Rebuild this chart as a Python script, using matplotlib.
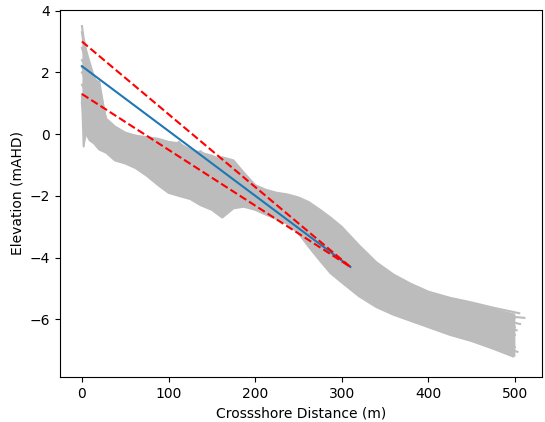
import matplotlib
matplotlib.use('Agg')
from matplotlib import pyplot as plt
import numpy as np

# crossshore distances shared by all surveyed profiles (m)
dist = [0, 2, 5, 9, 14, 20, 28, 38, 50, 62, 75, 88, 100, 112, 125, 137, 150,
        162, 175, 187, 200, 212, 225, 237, 250, 262, 275, 287, 300, 320, 340,
        360, 380, 400, 425, 450, 475, 500]
# last surveyed distance of each profile (replaces the final 500)
last_dist = [511, 505, 500, 498, 502, 500, 497, 500, 503, 498, 506, 500]

# surveyed elevations (mAHD)
profiles = [
    [3.5, 3.1, 2.7, 2.3, 1.85, 1.4, 0.5, 0.25, 0.05, -0.05, -0.1, -0.15, -0.25,
     -0.3, -0.5, -0.6, -0.7, -0.85, -1.05, -1.35, -1.7, -1.85, -1.95, -2.0,
     -2.1, -2.3, -2.6, -2.95, -3.3, -3.9, -4.4, -4.8, -5.1, -5.3, -5.5, -5.7,
     -5.85, -5.95],
    [2.8, 2.6, 2.3, 1.9, 1.5, 1.0, 0.3, 0.1, -0.1, -0.2, -0.3, -0.35, -0.4,
     -0.35, -0.6, -0.7, -0.9, -0.75, -0.85, -1.25, -1.65, -1.8, -1.9, -1.95,
     -2.05, -2.2, -2.45, -2.7, -3.0, -3.6, -4.15, -4.55, -4.85, -5.1, -5.3,
     -5.45, -5.62, -5.8],
    [2.4, 2.3, 2.0, 1.6, 1.2, 0.7, 0.2, -0.05, -0.2, -0.3, -0.45, -0.55, -0.6,
     -0.7, -0.8, -0.95, -1.1, -1.25, -1.3, -1.5, -1.8, -1.95, -2.05, -2.1,
     -2.2, -2.45, -2.8, -3.15, -3.45, -4.0, -4.5, -4.85, -5.1, -5.3, -5.5,
     -5.65, -5.8, -5.95],
    [2.0, 1.9, 1.6, 1.2, 0.9, 0.4, 0.0, -0.25, -0.35, -0.45, -0.6, -0.8, -0.9,
     -0.95, -1.0, -1.2, -1.3, -1.5, -1.55, -1.7, -1.9, -2.05, -2.15, -2.25,
     -2.4, -2.7, -3.05, -3.4, -3.7, -4.2, -4.65, -5.0, -5.25, -5.45, -5.65,
     -5.8, -5.95, -6.1],
    [1.6, 1.5, 1.2, 0.9, 0.6, 0.2, -0.15, -0.35, -0.5, -0.6, -0.75, -0.95,
     -1.1, -1.2, -1.25, -1.35, -1.5, -1.65, -1.7, -1.85, -2.0, -2.15, -2.25,
     -2.4, -2.6, -2.9, -3.3, -3.65, -3.95, -4.4, -4.8, -5.15, -5.4, -5.6,
     -5.8, -5.95, -6.15, -6.35],
    [1.3, -0.4, 0.9, 0.6, 0.3, 0.0, -0.3, -0.5, -0.6, -0.75, -0.9, -1.1,
     -1.25, -1.35, -1.45, -1.55, -1.7, -1.85, -1.85, -1.95, -2.1, -2.25,
     -2.35, -2.55, -2.75, -3.1, -3.5, -3.85, -4.15, -4.6, -4.95, -5.25, -5.5,
     -5.7, -5.9, -6.1, -6.3, -6.5],
    [1.1, 1.0, 0.6, 0.3, 0.1, -0.2, -0.4, -0.6, -0.7, -0.85, -1.0, -1.25,
     -1.4, -1.55, -1.6, -1.75, -1.9, -2.05, -1.95, -2.05, -2.2, -2.35, -2.45,
     -2.65, -2.9, -3.3, -3.7, -4.05, -4.35, -4.8, -5.15, -5.4, -5.6, -5.8,
     -6.0, -6.25, -6.5, -6.7],
    [1.0, 0.8, 0.4, 0.1, -0.1, -0.3, -0.5, -0.7, -0.8, -0.95, -1.15, -1.4,
     -1.6, -1.7, -1.8, -1.95, -2.1, -2.3, -2.15, -2.15, -2.3, -2.45, -2.55,
     -2.75, -3.0, -3.45, -3.85, -4.2, -4.5, -4.95, -5.3, -5.55, -5.75, -5.95,
     -6.15, -6.4, -6.65, -6.9],
    [1.2, 0.9, 0.2, -0.1, -0.2, -0.4, -0.55, -0.8, -0.9, -1.05, -1.25, -1.5,
     -1.75, -1.85, -1.95, -2.1, -2.3, -2.5, -2.3, -2.25, -2.35, -2.5, -2.65,
     -2.85, -3.1, -3.55, -4.0, -4.35, -4.65, -5.1, -5.45, -5.7, -5.9, -6.1,
     -6.3, -6.55, -6.8, -7.05],
    [1.0, 0.6, 0.0, -0.2, -0.3, -0.5, -0.6, -0.85, -0.95, -1.1, -1.35, -1.65,
     -1.9, -2.0, -2.1, -2.3, -2.45, -2.7, -2.4, -2.35, -2.45, -2.6, -2.75,
     -2.9, -3.2, -3.65, -4.1, -4.5, -4.8, -5.25, -5.6, -5.85, -6.05, -6.25,
     -6.5, -6.7, -6.95, -7.2],
    [3.3, 2.9, 2.5, 2.1, 1.7, 1.7, 0.4, 0.2, -0.15, -0.05, -0.35, -0.2, -0.5,
     -0.25, -0.7, -0.55, -0.9, -0.8, -1.2, -1.4, -1.75, -1.9, -2.0, -2.15,
     -2.3, -2.6, -2.95, -3.3, -3.6, -4.1, -4.55, -4.9, -5.15, -5.35, -5.55,
     -5.75, -5.95, -6.15],
    [2.2, 2.0, 1.4, 0.5, -0.1, 0.1, -0.5, -0.4, -0.75, -0.6, -1.0, -0.9,
     -1.35, -1.2, -1.6, -1.5, -1.9, -1.8, -2.1, -1.95, -2.2, -2.1, -2.35,
     -2.4, -2.5, -2.8, -3.2, -3.55, -3.85, -4.3, -4.7, -5.05, -5.3, -5.5,
     -5.7, -5.9, -6.05, -6.25],
]

# fitted slope and its bounds
fit_x = [0, 310]
fit_y = [2.2, -4.3]
upper_y = [3.0, -4.3]
lower_y = [1.3, -4.3]

grey = '#bcbcbc'

fig = plt.figure(figsize=(5.45, 4.22), dpi=100)
ax = fig.add_axes([0.110, 0.107, 0.884, 0.870])

# envelope of all surveys, then each survey line
elev = np.array(profiles)
ax.fill_between(dist, elev.min(axis=0), elev.max(axis=0), color=grey, lw=0)
for prof, end in zip(profiles, last_dist):
    ax.plot(dist[:-1] + [end], prof, color=grey, lw=1.5)

ax.plot(fit_x, fit_y, color='C0', lw=1.5)
ax.plot(fit_x, upper_y, 'r--', lw=1.5)
ax.plot(fit_x, lower_y, 'r--', lw=1.5)

ax.set_xlim(-25.4, 531)
ax.set_ylim(-7.86, 4.03)
ax.set_xlabel('Crossshore Distance (m)')
ax.set_ylabel('Elevation (mAHD)')

plt.savefig('out.png')
